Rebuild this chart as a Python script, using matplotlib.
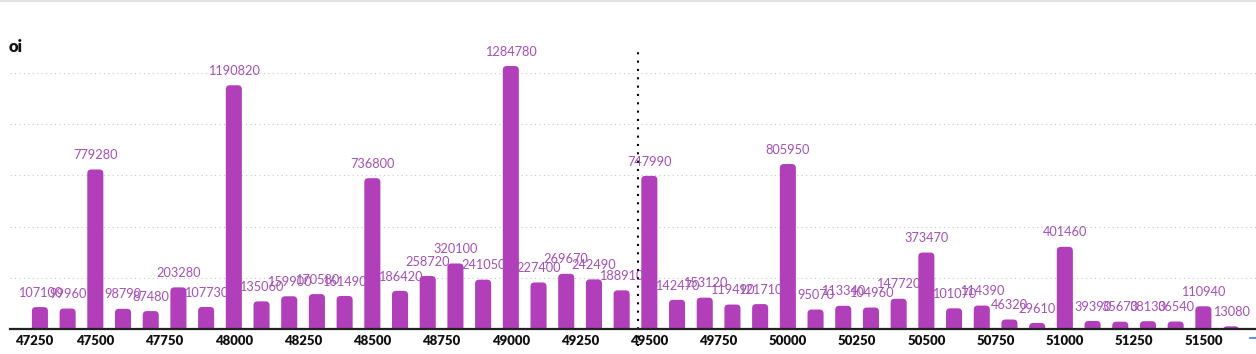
import matplotlib
matplotlib.use("Agg")
import matplotlib.pyplot as plt
import matplotlib.transforms as mtransforms
from matplotlib.lines import Line2D
from matplotlib.patches import FancyBboxPatch

# strikes (one bar every 100)
strikes = [47300, 47400, 47500, 47600, 47700, 47800, 47900, 48000, 48100, 48200,
           48300, 48400, 48500, 48600, 48700, 48800, 48900, 49000, 49100, 49200,
           49300, 49400, 49500, 49600, 49700, 49800, 49900, 50000, 50100, 50200,
           50300, 50400, 50500, 50600, 50700, 50800, 50900, 51000, 51100, 51200,
           51300, 51400, 51500, 51600]
oi = [107100, 99960, 779280, 98790, 87480, 203280, 107730, 1190820, 135060, 159900,
      170580, 161490, 736800, 186420, 258720, 320100, 241050, 1284780, 227400, 269670,
      242490, 188910, 747990, 142470, 153120, 119490, 121710, 805950, 95070, 113340,
      104960, 147720, 373470, 101070, 114390, 46320, 29610, 401460, 39390, 35670,
      38130, 36540, 110940, 13080]
tick_strikes = [47250, 47500, 47750, 48000, 48250, 48500, 48750, 49000, 49250,
                49500, 49750, 50000, 50250, 50500, 50750, 51000, 51250, 51500]
grid_levels = [250000, 500000, 750000, 1000000, 1250000]
spot = 49460

BAR = "#b13fb9"
LABEL = "#a450b6"

W, H = 1256, 354
fig = plt.figure(figsize=(W / 100, H / 100), dpi=100)
ax = fig.add_axes([10 / W, (H - 329) / H, 1 - 10 / W, (329 - 50) / H])
ax.set_xlim(47192, 51690)
ax.set_ylim(0, 1363000)

bars = ax.bar(strikes, oi, width=58, color=BAR)

# swap plain bars for ones with rounded tops
ux = 100 / 27.7     # data units per pixel, x
uy = 4885.0         # data units per pixel, y
for b in bars:
    x0, w, h = b.get_x(), b.get_width(), b.get_height()
    b.set_visible(False)
    r = 4 * ux
    p = FancyBboxPatch((x0, -6 * uy), w, h + 6 * uy,
                       boxstyle="round,pad=0,rounding_size=%f" % r,
                       mutation_aspect=uy / ux, facecolor=BAR, edgecolor="none")
    ax.add_patch(p)

for s, v in zip(strikes, oi):
    ax.annotate(str(v), (s, v), xytext=(0, 6), textcoords="offset points",
                ha="center", va="bottom", color=LABEL, fontsize=9.2,
                family="Lato", annotation_clip=False)

for g in grid_levels:
    ax.axhline(g, color="#c8c8c8", lw=0.8, ls=(0, (1, 3)), zorder=0)

ax.axvline(spot, ymin=-0.06, ymax=1, color="black", lw=1.5, ls=(0, (1, 3)),
           clip_on=False, zorder=5)

ax.set_yticks([])
ax.set_xticks(tick_strikes)
ax.set_xticklabels([str(t) for t in tick_strikes], fontsize=9.5,
                   fontweight="heavy", family="Lato", color="#111111")
ax.tick_params(axis="x", length=0, pad=4)
# first label is nudged in from the edge
lbl0 = ax.get_xticklabels()[0]
lbl0.set_transform(lbl0.get_transform() +
                   mtransforms.ScaledTranslation(8 / 100, 0, fig.dpi_scale_trans))

for side in ["left", "right", "top"]:
    ax.spines[side].set_visible(False)
ax.spines["bottom"].set_color("#222222")
ax.spines["bottom"].set_linewidth(1.6)
ax.spines["bottom"].set_zorder(6)

fig.text(9 / W, 1 - 47 / H, "oi", fontsize=12, fontweight="heavy",
         family="Lato", color="#111111", va="center", ha="left")

# thin grey border on top and a cut-off marker on the right
fig.add_artist(Line2D([0, 1], [1 - 1 / H, 1 - 1 / H], color="#e2e2e2", lw=1.5,
                      transform=fig.transFigure))
fig.add_artist(Line2D([1250 / W, 1], [1 - 338 / H, 1 - 338 / H], color="#3a7bd5",
                      lw=1.2, transform=fig.transFigure))

fig.savefig("out.png", dpi=100)
